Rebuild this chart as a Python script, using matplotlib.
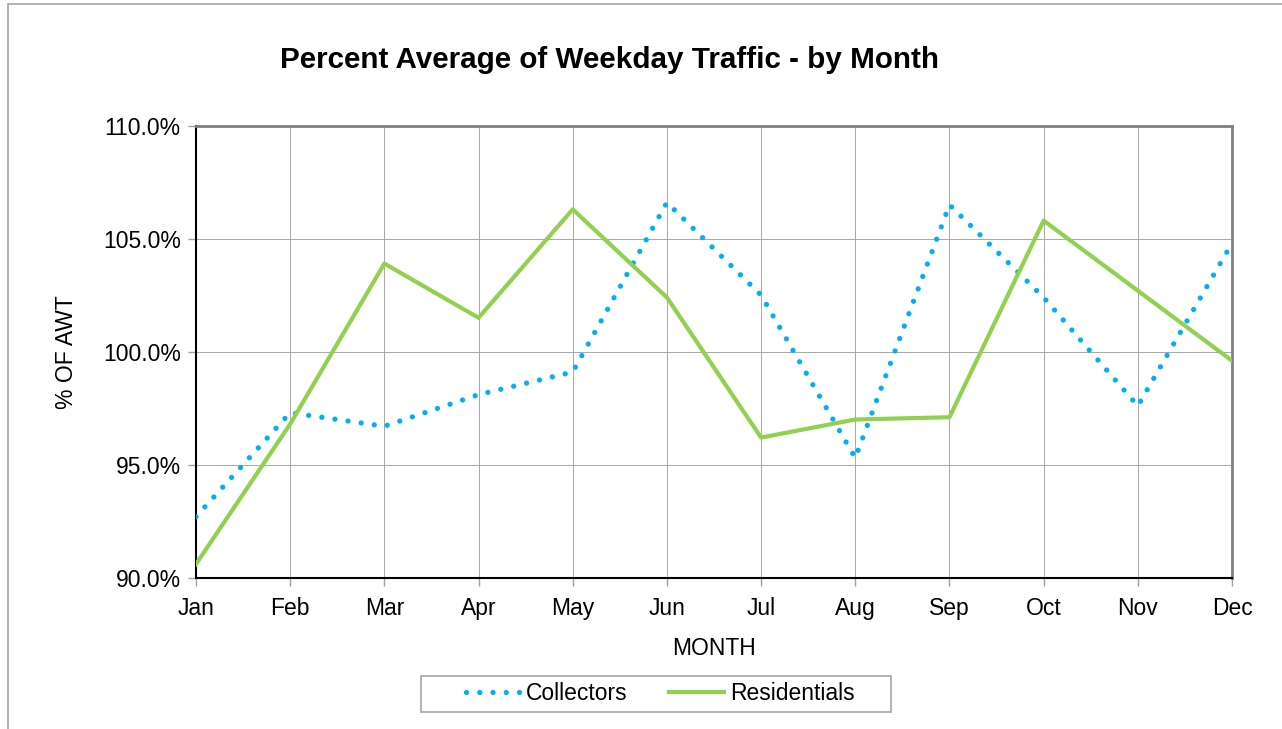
import numpy as np
import matplotlib
matplotlib.use("Agg")
from matplotlib import pyplot as plt
from matplotlib.patches import Rectangle

months = ["Jan", "Feb", "Mar", "Apr", "May", "Jun",
          "Jul", "Aug", "Sep", "Oct", "Nov", "Dec"]
collectors = [92.7, 97.3, 96.7, 98.1, 99.1, 106.6,
              102.5, 95.3, 106.5, 102.4, 97.6, 104.8]
residentials = [90.6, 96.8, 103.9, 101.5, 106.3, 102.4,
                96.2, 97.0, 97.1, 105.8, 102.7, 99.6]
y_ticks = [90, 95, 100, 105, 110]

plt.rcParams["font.family"] = ["Liberation Sans", "DejaVu Sans"]

W, H = 1282, 729
fig = plt.figure(figsize=(W / 100, H / 100), dpi=100)
# outer chart border
fig.patches.append(Rectangle((8 / W, -0.01), 1.0, 1 - 4 / H + 0.01,
                             transform=fig.transFigure, fill=False,
                             edgecolor="#a6a6a6", linewidth=1.2))
# legend box
fig.patches.append(Rectangle((421 / W, 1 - 712 / H), (891 - 421) / W, 36 / H,
                             transform=fig.transFigure, fill=False,
                             edgecolor="#a6a6a6", linewidth=1.2))

ax = fig.add_axes([196 / W, 1 - 577.7 / H, (1232 - 196) / W, (577.7 - 125.7) / H])
x = np.arange(len(months))

ax.plot(x, collectors, color="#00b0f0", linestyle=(0, (0.01, 2.5)),
        linewidth=3.8, dash_capstyle="round", label="Collectors", zorder=3)
ax.plot(x, residentials, color="#92d050", linewidth=3.0,
        label="Residentials", zorder=3)

ax.set_xlim(0, 11)
ax.set_ylim(90, 110)
ax.set_xticks(x)
ax.set_xticklabels(months, fontsize=16.5)
ax.set_yticks(y_ticks)
ax.set_yticklabels(["%.1f%%" % v for v in y_ticks], fontsize=16.5)
ax.grid(True, color="#a8a8a8", linewidth=0.7)
ax.set_axisbelow(True)
ax.tick_params(axis="both", direction="out", length=6, color="#a0a0a0", width=1)
ax.tick_params(axis="x", pad=8)
ax.tick_params(axis="y", pad=5)

ax.spines["left"].set_color("black")
ax.spines["bottom"].set_color("black")
ax.spines["left"].set_linewidth(1.5)
ax.spines["bottom"].set_linewidth(1.5)
ax.spines["top"].set_color("#808080")
ax.spines["right"].set_color("#808080")
ax.spines["top"].set_linewidth(2)
ax.spines["right"].set_linewidth(2)

ax.set_xlabel("MONTH", fontsize=16.5, labelpad=12)
ax.set_ylabel("% OF AWT", fontsize=16.5, labelpad=18)
fig.text(609 / W, 1 - 60 / H, "Percent Average of Weekday Traffic - by Month",
         fontsize=21.3, fontweight="bold", ha="center", va="center")

leg = fig.legend(loc="center", bbox_to_anchor=(660 / W, 1 - 694 / H), ncol=2,
                 fontsize=16.5, frameon=False,
                 handlelength=2.4, columnspacing=1.8, handletextpad=0.25,
                 borderpad=0.0)

fig.savefig("out.png", dpi=100)
